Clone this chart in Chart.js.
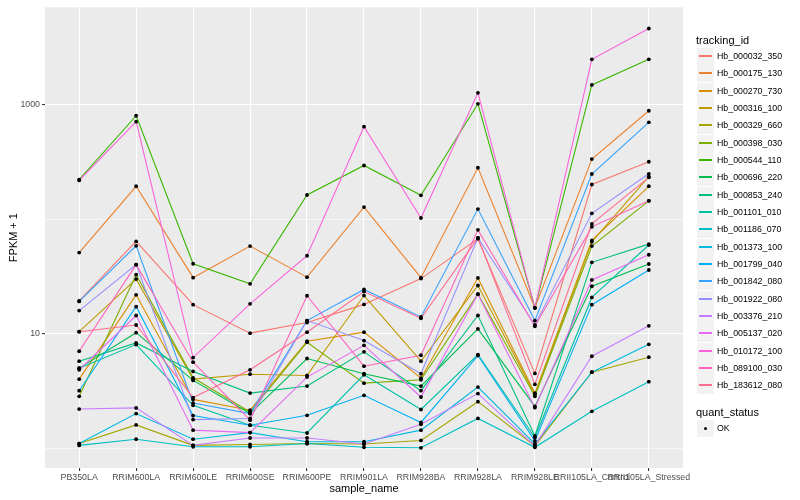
<!DOCTYPE html>
<html>
<head>
<meta charset="utf-8">
<script src="https://cdn.jsdelivr.net/npm/chart.js@4.4.1/dist/chart.umd.min.js"></script>
<style>
  body { margin: 0; background: #fff; font-family: "Liberation Sans", Arial, sans-serif; }
  #wrap { position: relative; width: 800px; height: 500px; }
  #legend { position: absolute; left: 0; top: 0; }
  .ltitle { position: absolute; left: 696px; font-size: 11px; line-height: 13px; color: #000; white-space: nowrap; }
  .lrow { position: absolute; left: 697px; width: 100px; height: 17px; }
  .lkey { position: absolute; left: 0; top: 0; width: 17px; height: 17px; background: #F2F2F2; }
  .lline { position: absolute; left: 2px; top: 7px; width: 13px; height: 2px; }
  .ldot { position: absolute; left: 7px; top: 7px; width: 3px; height: 3px; border-radius: 50%; background: #000; }
  .ltext { position: absolute; left: 20px; top: 0; font-size: 8.8px; line-height: 17px; color: #000; white-space: nowrap; }
</style>
</head>
<body>
<div id="wrap">
  <canvas id="chart" width="800" height="500"></canvas>
  <div id="legend"></div>
</div>
<script>
// categories
const sampleNames = ["PB350LA", "RRIM600LA", "RRIM600LE", "RRIM600SE", "RRIM600PE", "RRIM901LA",
    "RRIM928BA", "RRIM928LA", "RRIM928LE", "RRII105LA_Control", "RRII105LA_Stressed"];

const trackingIds = ["Hb_000032_350", "Hb_000175_130", "Hb_000270_730", "Hb_000316_100", "Hb_000329_660",
    "Hb_000398_030", "Hb_000544_110", "Hb_000696_220", "Hb_000853_240", "Hb_001101_010",
    "Hb_001186_070", "Hb_001373_100", "Hb_001799_040", "Hb_001842_080", "Hb_001922_080",
    "Hb_003376_210", "Hb_005137_020", "Hb_010172_100", "Hb_089100_030", "Hb_183612_080"];

// ggplot hue palette, 20 levels
const hueColors = ["#F8766D", "#EA8331", "#D89000", "#C09B00", "#A3A500", "#7CAE00", "#39B600", "#00BB4E",
    "#00BF7D", "#00C1A3", "#00BFC4", "#00BAE0", "#00B0F6", "#35A2FF", "#9590FF", "#C77CFF",
    "#E76BF3", "#FA62DB", "#FF62BC", "#FF6C91"];

// FPKM + 1 per sample
const hb000032_350 = [19.3, 63.8, 17.9, 10.1, 12.5, 18.0, 30.2, 67.2, 4.5, 200, 316];
const hb000175_130 = [51, 193, 30.8, 58.1, 31.1, 127, 30.8, 280, 16.8, 333, 880];
const hb000270_730 = [4.01, 21.8, 2.67, 2.15, 8.58, 10.3, 4.09, 30.6, 3.02, 65.1, 193];
const hb000316_100 = [10.4, 29.9, 4.01, 4.43, 4.32, 21.5, 5.75, 26.3, 2.94, 63.3, 234];
const hb000329_660 = [1.10, 1.60, 1.06, 1.08, 1.10, 1.09, 1.17, 2.55, 1.05, 4.61, 6.23];
const hb000398_030 = [2.84, 32.7, 4.12, 2.07, 8.40, 3.70, 3.96, 22.1, 2.84, 58.1, 144];
const hb000544_110 = [221, 796, 40.7, 27.2, 162, 293, 161, 1012, 16.8, 1479, 2472];
const hb000696_220 = [5.0, 10.2, 3.91, 2.01, 6.07, 4.47, 3.49, 11.0, 2.32, 25.9, 40.5];
const hb000853_240 = [5.75, 8.30, 4.68, 3.03, 3.49, 6.94, 3.18, 14.4, 1.28, 41.9, 60.4];
const hb001101_010 = [5.0, 8.03, 2.37, 1.59, 1.36, 4.38, 2.18, 6.57, 1.24, 20.7, 59.3];
const hb001186_070 = [1.06, 1.20, 1.03, 1.03, 1.10, 1.02, 1.01, 1.82, 1.02, 2.10, 3.81];
const hb001373_100 = [1.10, 2.01, 1.20, 1.37, 1.14, 1.14, 1.44, 3.42, 1.09, 4.61, 8.07];
const hb001799_040 = [3.18, 17.2, 1.93, 1.59, 1.94, 2.90, 1.68, 6.44, 1.16, 17.9, 35.9];
const hb001842_080 = [19.1, 58.4, 2.48, 2.01, 13.0, 24.3, 14.0, 122, 13.0, 247, 697];
const hb001922_080 = [15.9, 40.0, 1.78, 1.82, 13.0, 8.7, 4.47, 68.5, 11.9, 112, 248];
const hb003376_210 = [2.20, 2.25, 1.06, 1.23, 1.23, 1.09, 1.62, 3.00, 1.05, 6.35, 11.7];
const hb005137_020 = [4.84, 14.4, 1.44, 1.37, 4.18, 7.91, 2.80, 22.1, 2.26, 29.4, 48.8];
const hb010172_100 = [217, 706, 6.19, 18.2, 47.8, 639, 102, 1262, 16.8, 2472, 4592];
const hb089100_030 = [7.02, 40.0, 5.64, 1.76, 21.4, 5.20, 6.48, 80.4, 11.6, 85.4, 144];
const hb183612_080 = [10.4, 11.9, 2.77, 4.84, 10.3, 23.3, 13.6, 68.5, 3.61, 90.6, 231];

const series = [hb000032_350, hb000175_130, hb000270_730, hb000316_100, hb000329_660,
    hb000398_030, hb000544_110, hb000696_220, hb000853_240, hb001101_010,
    hb001186_070, hb001373_100, hb001799_040, hb001842_080, hb001922_080,
    hb003376_210, hb005137_020, hb010172_100, hb089100_030, hb183612_080];

// y axis breaks (labelled) and minor breaks
const yBreaks = [10, 1000];
const yMinorBreaks = [1, 100];

// grey panel like ggplot
const panelBg = {
    id: "panelBg",
    beforeDraw(chart) {
        const { ctx, chartArea: a } = chart;
        ctx.save();
        ctx.fillStyle = "#EBEBEB";
        ctx.fillRect(a.left, a.top, a.width, a.height);
        ctx.restore();
    }
};

function toPoints(values) {
    return values.map((v, i) => ({ x: i, y: v }));
}

const datasets = [];
// lines first
series.forEach((values, i) => {
    datasets.push({
        label: trackingIds[i],
        data: toPoints(values),
        borderColor: hueColors[i],
        borderWidth: 1.1,
        pointRadius: 0,
        fill: false,
        tension: 0,
        order: -i
    });
});
// then black points on top
series.forEach((values, i) => {
    datasets.push({
        label: trackingIds[i] + " OK",
        data: toPoints(values),
        showLine: false,
        pointRadius: 1.9,
        pointBackgroundColor: "#000",
        pointBorderWidth: 0,
        order: -100 - i
    });
});

const isMajor = v => yBreaks.includes(v);

new Chart(document.getElementById("chart").getContext("2d"), {
    type: "line",
    data: { datasets: datasets },
    plugins: [panelBg],
    options: {
        responsive: false,
        animation: false,
        devicePixelRatio: 1,
        layout: { padding: { left: 0, right: 117, top: 5, bottom: 0 } },
        plugins: { legend: { display: false }, tooltip: { enabled: false } },
        scales: {
            x: {
                type: "linear",
                min: -0.6,
                max: sampleNames.length - 1 + 0.6,
                afterBuildTicks: s => { s.ticks = sampleNames.map((n, i) => ({ value: i })); },
                afterFit: s => { s.height = 32; },
                border: { display: false },
                grid: { color: "#FFFFFF", lineWidth: 1.1, tickColor: "#333333", tickLength: 3 },
                ticks: {
                    autoSkip: false, maxRotation: 0, minRotation: 0, padding: 1,
                    color: "#4D4D4D", font: { family: "Liberation Sans", size: 8.8 },
                    callback: v => sampleNames[v]
                },
                title: {
                    display: true, text: "sample_name", color: "#000",
                    font: { family: "Liberation Sans", size: 11 }, padding: { top: 0, bottom: 4.5 }
                }
            },
            y: {
                type: "logarithmic",
                min: 0.673,
                max: 7030,
                afterBuildTicks: s => {
                    s.ticks = yMinorBreaks.concat(yBreaks).sort((a, b) => a - b).map(v => ({ value: v }));
                },
                afterFit: s => { s.width = 45; },
                border: { display: false },
                grid: {
                    color: "#FFFFFF",
                    lineWidth: c => (c.tick && isMajor(c.tick.value)) ? 1.1 : 0.55,
                    tickColor: c => (c.tick && isMajor(c.tick.value)) ? "#333333" : "rgba(0,0,0,0)",
                    tickLength: 3
                },
                ticks: {
                    padding: 2, color: "#4D4D4D", font: { family: "Liberation Sans", size: 8.8 },
                    callback: v => isMajor(v) ? String(v) : ""
                },
                title: {
                    display: true, text: "FPKM + 1", color: "#000",
                    font: { family: "Liberation Sans", size: 11 }, padding: { top: 7, bottom: 0 }
                }
            }
        }
    }
});

// legend (ggplot style, right side)
function renderLegend() {
    const box = document.getElementById("legend");
    let html = `<div class="ltitle" style="top:34px">tracking_id</div>`;
    trackingIds.forEach((id, i) => {
        const top = Math.round(48 + i * 17.33);
        html += `
            <div class="lrow" style="top:${top}px">
                <div class="lkey"><div class="lline" style="background-color:${hueColors[i]}"></div></div>
                <div class="ltext">${id}</div>
            </div>`;
    });
    html += `<div class="ltitle" style="top:406px">quant_status</div>`;
    html += `
        <div class="lrow" style="top:420px">
            <div class="lkey"><div class="ldot"></div></div>
            <div class="ltext">OK</div>
        </div>`;
    box.innerHTML = html;
}

renderLegend();
</script>
</body>
</html>
